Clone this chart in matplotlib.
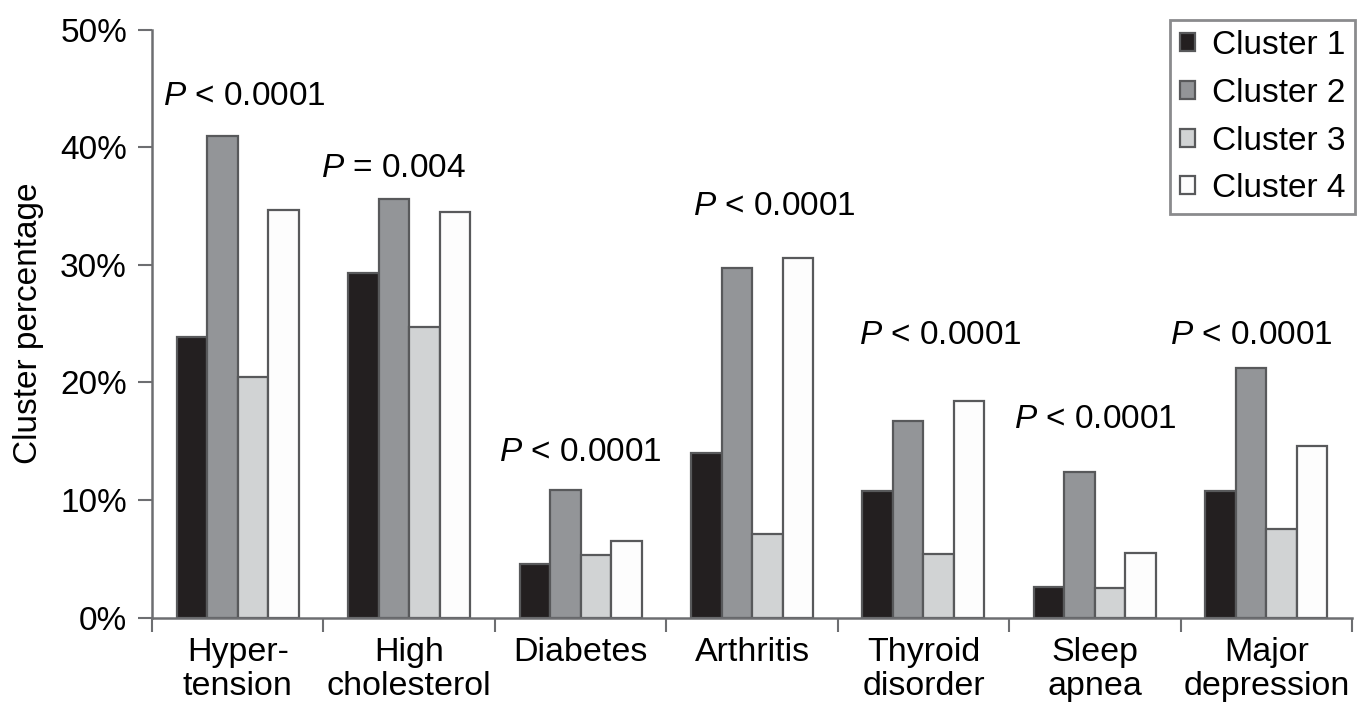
import numpy as np
import matplotlib
matplotlib.use("Agg")
from matplotlib import pyplot as plt

plt.rcParams["font.family"] = ["Liberation Sans", "DejaVu Sans"]
plt.rcParams["mathtext.fontset"] = "custom"
plt.rcParams["mathtext.it"] = "Liberation Sans:italic"
plt.rcParams["mathtext.rm"] = "Liberation Sans"

conditions = ["Hyper-\ntension", "High\ncholesterol", "Diabetes", "Arthritis",
              "Thyroid\ndisorder", "Sleep\napnea", "Major\ndepression"]
clusters = ["Cluster 1", "Cluster 2", "Cluster 3", "Cluster 4"]
cluster1 = [23.9, 29.3, 4.6, 14.0, 10.8, 2.6, 10.8]
cluster2 = [41.0, 35.6, 10.9, 29.7, 16.7, 12.4, 21.2]
cluster3 = [20.5, 24.7, 5.3, 7.1, 5.4, 2.5, 7.5]
cluster4 = [34.7, 34.5, 6.5, 30.6, 18.4, 5.5, 14.6]
p_labels = ["< 0.0001", "= 0.004", "< 0.0001", "< 0.0001",
            "< 0.0001", "< 0.0001", "< 0.0001"]

# where each p-value sits (x in category units, y = baseline in %)
p_x = [0.54, 1.41, 2.50, 3.63, 4.60, 5.50, 6.41]
p_y = [43.6, 37.5, 13.3, 34.2, 23.3, 16.1, 23.3]

colors = ["#231f20", "#939598", "#d1d3d4", "#fdfdfd"]
edge = "#58595b"

fig = plt.figure(figsize=(13.65, 7.17), dpi=100)
ax = fig.add_axes([0.1114, 0.1385, 0.8791, 0.8201])

series = [cluster1, cluster2, cluster3, cluster4]
centers = np.arange(len(conditions)) + 0.5
w = 0.178
for i, vals in enumerate(series):
    ax.bar(centers + (i - 1.5) * w, vals, width=w, color=colors[i],
           edgecolor=edge, linewidth=1.6, label=clusters[i], zorder=2)

for x, y, lab in zip(p_x, p_y, p_labels):
    ax.text(x, y, r"$P$ " + lab, ha="center", va="baseline", fontsize=24)

ax.set_xlim(0, 7)
ax.set_ylim(0, 50)
ax.set_yticks(np.arange(0, 51, 10))
ax.set_yticklabels([f"{v}%" for v in range(0, 51, 10)])
ax.set_xticks(np.arange(0, 8))
ax.set_xticklabels([])
ax.set_xticks(centers, minor=True)
ax.set_xticklabels(conditions, minor=True, linespacing=1.1)
ax.tick_params(axis="x", which="minor", length=0, pad=14, labelsize=24.5)
ax.tick_params(axis="x", which="major", length=10, width=1.5, color="#6d6e71")
ax.tick_params(axis="y", length=10, width=1.5, color="#6d6e71", labelsize=24, pad=8)
for lab in ax.get_xticklabels(minor=True):
    lab.set_verticalalignment("top")

for s in ["top", "right"]:
    ax.spines[s].set_visible(False)
for s in ["left", "bottom"]:
    ax.spines[s].set_color("#6d6e71")
    ax.spines[s].set_linewidth(1.8)

ax.set_ylabel("Cluster percentage", fontsize=24, labelpad=12)

leg = ax.legend(loc="upper right", bbox_to_anchor=(1.0025, 1.016), fontsize=24,
                frameon=True, fancybox=False, edgecolor="#6d6e71",
                handlelength=0.45, handleheight=0.45, handletextpad=0.5,
                labelspacing=0.5, borderpad=0.3, borderaxespad=0)
leg.get_frame().set_linewidth(2)

fig.savefig("out.png", dpi=100)
